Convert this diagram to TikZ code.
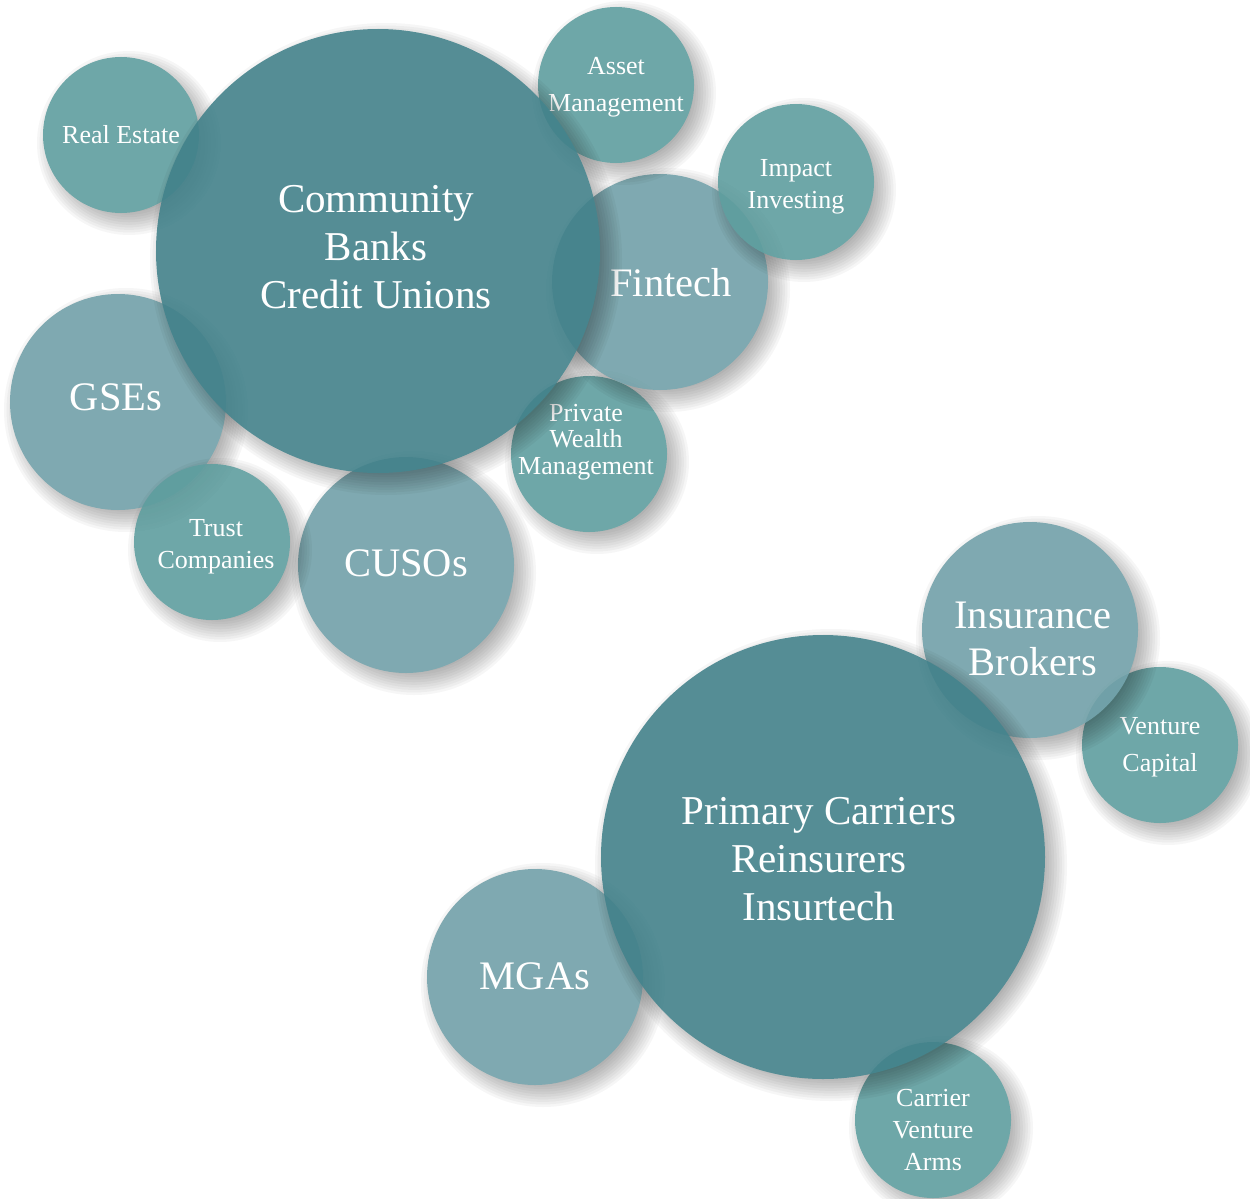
\documentclass[tikz,border=0pt]{standalone}
\usepackage{fontspec}
\setmainfont{Liberation Serif}
\definecolor{bigc}{RGB}{66,129,138}
\definecolor{medc}{RGB}{113,160,168}
\definecolor{smlc}{RGB}{94,157,158}
\tikzset{
  bub/.style={circle, inner sep=0pt, draw=none},
  lbl/.style={text=white, align=center, inner sep=0pt},
  bigfont/.style={font=\fontsize{41}{48}\selectfont},
  medfont/.style={font=\fontsize{40.5}{47}\selectfont},
  smlfont/.style={font=\fontsize{26}{32}\selectfont},
}
\newcommand\bubble[5]{%
  \begin{scope}[transparency group, opacity=0.9]
    \foreach \k in {0,...,11}{%
      \pgfmathsetmacro\rr{#4+14-\k*28/11}%
      \fill[black, opacity=0.04] (#2+8,#3+8) circle[radius=\rr pt];}
    \node[bub, fill=#5, minimum size=2*#4] (#1) at (#2,#3) {};
  \end{scope}}
\begin{document}
\begin{tikzpicture}[x=1pt,y=-1pt]
\useasboundingbox (0,0) rectangle (1250,1199);
% top group
\bubble{cusos}{406}{565}{108}{medc}
\node[lbl, medfont] (cusos-l) at (406,563) {CUSOs};
\bubble{gses}{118}{402}{108}{medc}
\node[lbl, medfont] (gses-l) at (116,397) {GSEs};
\bubble{trust}{212}{542}{78}{smlc}
\node[lbl, smlfont] (trust-l) at (216,547) {Trust\\Companies};
\bubble{pwm}{589}{454}{78}{smlc}
\node[lbl, font=\fontsize{26}{26.5}\selectfont] (pwm-l) at (586,442) {Private\\Wealth\\Management};
\bubble{fintech}{660}{282}{108}{medc}
\node[lbl, medfont] (fintech-l) at (671,283) {Fintech};
\bubble{impact}{796}{182}{78}{smlc}
\node[lbl, smlfont] (impact-l) at (796,187) {Impact\\Investing};
\bubble{asset}{616}{85}{78}{smlc}
\node[lbl, font=\fontsize{26}{37}\selectfont] (asset-l) at (616,87) {Asset\\Management};
\bubble{realestate}{121}{135}{78}{smlc}
\node[lbl, smlfont] (realestate-l) at (121,135) {Real Estate};
\bubble{cb}{378}{251}{222}{bigc}
\node[lbl, bigfont] (cb-l) at (376,247) {Community\\Banks\\Credit Unions};
% bottom group
\bubble{carrier}{933}{1120}{78}{smlc}
\node[lbl, smlfont] (carrier-l) at (933,1130) {Carrier\\Venture\\Arms};
\bubble{mgas}{535}{977}{108}{medc}
\node[lbl, medfont] (mgas-l) at (535,976) {MGAs};
\bubble{vc}{1160}{745}{78}{smlc}
\node[lbl, font=\fontsize{26}{37}\selectfont] (vc-l) at (1160,747) {Venture\\Capital};
\bubble{ib}{1030}{630}{108}{medc}
\node[lbl, medfont] (ib-l) at (1033,639) {Insurance\\Brokers};
\bubble{pc}{823}{857}{222}{bigc}
\node[lbl, bigfont] (pc-l) at (819,859) {Primary Carriers\\Reinsurers\\Insurtech};
\end{tikzpicture}
\end{document}
